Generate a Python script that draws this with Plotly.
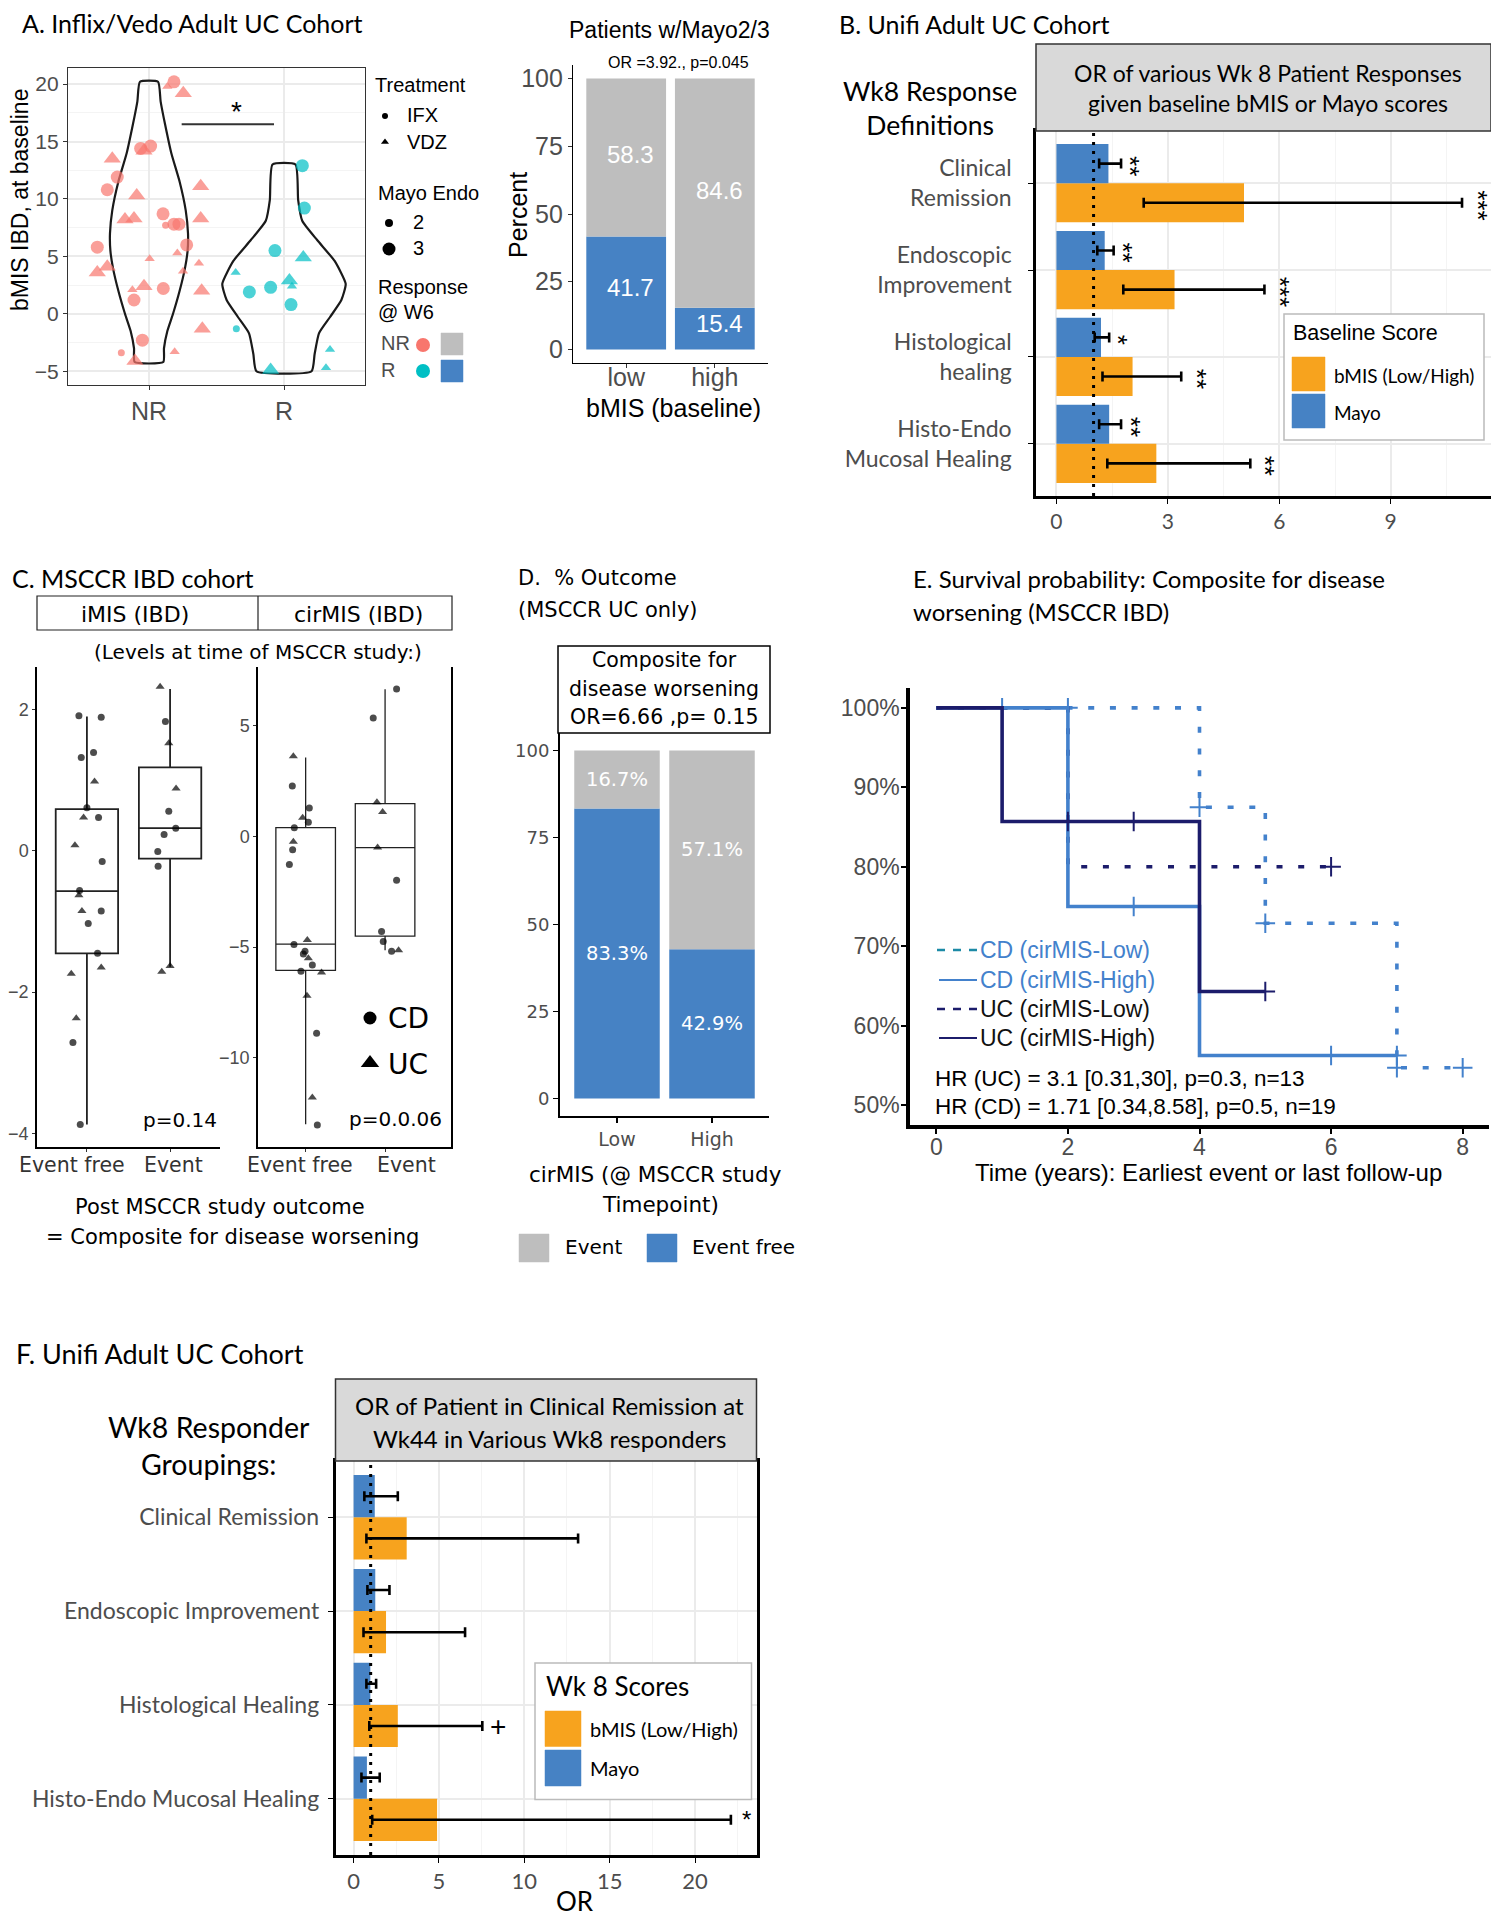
import plotly.graph_objects as go

W, H = 1499, 1920
OFF = 8  # browser body margin
FW, FH = W - OFF, H - OFF
ARIAL = "Liberation Sans, Arial, sans-serif"
LATO = "Lato, Open Sans, sans-serif"
DEJA = "DejaVu Sans, Verdana, sans-serif"

SALMON, TEAL = "#F8766D", "#00BFC4"
BLUE, GRAY, ORANGE = "#4682C4", "#BEBEBE", "#F7A31E"
CDBLUE, NAVY = "#4381CC", "#1C1C6B"

# ---------------- data ----------------
# Panel A: bMIS per patient (jittered x position)
A_NR_X = [1.185, 1.136, 1.254, 1.012, 0.938, 0.963, 0.728, 0.765, 0.691, 0.909, 1.383, 0.822, 0.889, 1.104,
          1.123, 1.185, 1.222, 1.383, 1.279, 0.617, 1.005, 1.210, 1.370, 0.691, 0.617, 1.252, 0.877, 0.963,
          1.106, 1.390, 0.889, 1.395, 0.951, 0.795, 1.190, 0.896]
A_NR_Y = [20.2, 19.8, 19.2, 14.6, 14.4, 14.2, 13.5, 11.9, 10.8, 10.3, 11.1, 8.2, 8.3, 8.7,
          7.7, 7.8, 7.8, 8.3, 6.0, 5.8, 4.8, 5.3, 4.4, 4.1, 3.6, 3.7, 2.1, 2.4,
          2.2, 2.0, 1.2, -1.3, -2.3, -3.4, -3.3, -4.1]
A_NR_TRT = ["IFX", "VDZ", "VDZ", "IFX", "IFX", "VDZ", "VDZ", "IFX", "IFX", "VDZ", "VDZ", "VDZ", "VDZ", "IFX",
            "IFX", "IFX", "IFX", "VDZ", "IFX", "IFX", "VDZ", "VDZ", "VDZ", "VDZ", "VDZ", "VDZ", "VDZ", "VDZ",
            "IFX", "VDZ", "IFX", "VDZ", "IFX", "IFX", "VDZ", "VDZ"]
A_NR_MAYO = [3, 2, 3, 3, 3, 3, 3, 3, 3, 3, 3, 3, 3, 3,
             2, 3, 3, 3, 3, 3, 2, 2, 2, 3, 3, 2, 2, 3,
             3, 3, 3, 3, 3, 2, 2, 3]
A_R_X = [2.136, 2.151, 1.933, 2.143, 1.642, 2.040, 2.059, 1.743, 1.901, 2.052, 1.647, 2.341, 2.311, 1.901]
A_R_Y = [12.9, 9.2, 5.5, 4.9, 3.6, 2.9, 2.4, 1.9, 2.3, 0.8, -1.3, -3.1, -4.7, -4.9]
A_R_TRT = ["IFX", "IFX", "IFX", "VDZ", "VDZ", "VDZ", "VDZ", "IFX", "IFX", "IFX", "IFX", "VDZ", "VDZ", "VDZ"]
A_R_MAYO = [3, 3, 3, 3, 2, 3, 2, 3, 3, 3, 2, 2, 2, 3]
# violin outlines (y level, half width)
A_NR_VY = [-4.2, -3.0, -1.5, 0.0, 2.0, 4.0, 5.5, 7.0, 9.0, 11.5, 14.0, 16.5, 18.5, 20.2]
A_NR_VHW = [0.106, 0.111, 0.136, 0.178, 0.227, 0.267, 0.286, 0.289, 0.272, 0.227, 0.165, 0.119, 0.086, 0.067]
A_R_VY = [-5.0, -3.5, -1.7, -0.3, 1.2, 2.6, 4.6, 6.4, 8.1, 9.9, 13.0]
A_R_VHW = [0.204, 0.227, 0.259, 0.340, 0.425, 0.457, 0.375, 0.247, 0.135, 0.105, 0.085]
A_GROUPS = ["NR", "R"]

# Panel A right: Patients w/Mayo2/3
AB_CATS = ["low", "high"]
AB_R = [41.7, 15.4]
AB_NR = [58.3, 84.6]

# Panel B: Unifi, OR of Wk8 responses
B_CATS = ["Clinical<br>Remission", "Endoscopic<br>Improvement", "Histological<br>healing",
          "Histo-Endo<br>Mucosal Healing"]
B_MAYO = [1.40, 1.30, 1.20, 1.42]
B_MAYO_LO = [1.15, 1.10, 1.03, 1.15]
B_MAYO_HI = [1.74, 1.54, 1.42, 1.74]
B_MAYO_SIG = ["**", "**", "*", "**"]
B_BMIS = [5.05, 3.18, 2.05, 2.69]
B_BMIS_LO = [2.35, 1.80, 1.24, 1.37]
B_BMIS_HI = [10.92, 5.60, 3.36, 5.22]
B_BMIS_SIG = ["***", "***", "**", "**"]

# Panel C: MSCCR IBD boxplots
C_GROUPS = ["Event free", "Event"]
C_IMIS_X = [0.904, 1.172, 0.932, 1.08, 1.092, 1.0, 0.96, 1.14, 0.856, 1.184, 0.912, 0.904, 0.94, 1.172,
            1.016, 1.128, 1.172, 0.812, 0.872, 0.832, 0.92,
            1.88, 1.944, 1.984, 2.072, 1.984, 2.068, 1.928, 1.852, 1.856, 1.9, 2.0]
C_IMIS_Y = [1.91, 1.89, 1.32, 1.39, 0.98, 0.61, 0.47, 0.47, 0.08, -0.15, -0.56, -0.63, -0.85, -0.85,
            -1.03, -1.45, -1.65, -1.74, -2.37, -2.71, -3.87,
            2.32, 1.83, 1.52, 0.88, 0.56, 0.32, 0.23, -0.01, -0.22, -1.71, -1.63]
C_IMIS_DX = ["CD", "CD", "CD", "CD", "UC", "CD", "UC", "CD", "UC", "CD", "CD", "UC", "UC", "CD",
             "CD", "CD", "UC", "UC", "UC", "CD", "CD",
             "UC", "CD", "UC", "UC", "CD", "CD", "CD", "CD", "CD", "UC", "UC"]
C_IMIS_Q1 = [-1.45, -0.11]
C_IMIS_MED = [-0.57, 0.32]
C_IMIS_Q3 = [0.59, 1.18]
C_IMIS_LOW = [-3.87, -1.64]
C_IMIS_HIGH = [1.90, 2.29]
C_CIR_X = [0.845, 0.832, 1.046, 0.962, 1.034, 0.857, 0.845, 0.836, 0.795, 1.021, 0.853, 0.992, 0.971, 1.034,
           1.084, 0.941, 1.2, 1.017, 1.138, 1.084, 1.147,
           2.145, 1.851, 1.897, 1.969, 1.906, 2.145, 1.956, 1.977, 2.082, 2.17]
C_CIR_Y = [3.63, 2.28, 1.29, 0.85, 0.65, 0.40, -0.24, -0.60, -1.27, -4.68, -4.88, -5.18, -5.31, -5.50,
           -5.81, -6.09, -6.15, -7.20, -8.89, -11.79, -13.04,
           6.67, 5.36, 1.55, 1.11, -0.50, -1.98, -4.29, -4.74, -5.18, -5.14]
C_CIR_DX = ["UC", "CD", "CD", "UC", "CD", "CD", "UC", "CD", "CD", "UC", "CD", "CD", "CD", "UC",
            "CD", "CD", "UC", "UC", "CD", "UC", "CD",
            "CD", "CD", "UC", "UC", "UC", "CD", "CD", "CD", "CD", "UC"]
C_CIR_Q1 = [-6.05, -4.50]
C_CIR_MED = [-4.86, -0.50]
C_CIR_Q3 = [0.40, 1.49]
C_CIR_LOW = [-13.0, -5.14]
C_CIR_HIGH = [3.57, 6.65]

# Panel D: % outcome
D_CATS = ["Low", "High"]
D_EVENT_FREE = [83.3, 42.9]
D_EVENT = [16.7, 57.1]

# Panel E: Kaplan-Meier steps (time in years, survival %)
E_CD_LOW_T = [0, 4, 5, 7, 8]
E_CD_LOW_S = [100, 87.5, 72.9, 54.7, 54.7]
E_CD_LOW_CT = [1, 2, 4, 5, 7, 8]
E_CD_LOW_CS = [100, 100, 87.5, 72.9, 54.7, 54.7]
E_CD_HIGH_T = [0, 2, 4, 7]
E_CD_HIGH_S = [100, 75, 56.25, 56.25]
E_CD_HIGH_CT = [3, 6, 7]
E_CD_HIGH_CS = [75, 56.25, 56.25]
E_UC_LOW_T = [0, 2, 6]
E_UC_LOW_S = [100, 80, 80]
E_UC_LOW_CT = [6]
E_UC_LOW_CS = [80]
E_UC_HIGH_T = [0, 1, 4, 5]
E_UC_HIGH_S = [100, 85.7, 64.3, 64.3]
E_UC_HIGH_CT = [2, 3, 5]
E_UC_HIGH_CS = [85.7, 85.7, 64.3]

# Panel F: Unifi, OR of clinical remission at Wk44
F_CATS = ["Clinical Remission", "Endoscopic Improvement", "Histological Healing", "Histo-Endo Mucosal Healing"]
F_MAYO = [1.24, 1.27, 0.98, 0.78]
F_MAYO_LO = [0.63, 0.81, 0.75, 0.46]
F_MAYO_HI = [2.59, 2.10, 1.32, 1.53]
F_BMIS = [3.11, 1.90, 2.59, 4.89]
F_BMIS_LO = [0.75, 0.58, 0.92, 1.09]
F_BMIS_HI = [13.15, 6.53, 7.54, 22.10]
F_BMIS_SIG = ["", "", "+", "*"]


# ---------------- helpers (page pixel -> paper) ----------------
def xd(a, b):
    return [(a - OFF) / FW, (b - OFF) / FW]


def yd(t, b):
    return [1 - (b - OFF) / FH, 1 - (t - OFF) / FH]


fig = go.Figure()
ann = []
shapes = []


def txt(x, y, s, size, family=ARIAL, color="black", xa="center", ya="middle", angle=0, xref="x9", yref="y9"):
    ann.append(dict(x=x, y=y, text=s, xref=xref, yref=yref, showarrow=False, xanchor=xa, yanchor=ya,
                    textangle=angle, font=dict(size=size, family=family, color=color)))


def rect(x0, y0, x1, y1, fill="rgba(0,0,0,0)", line="black", lw=1.0, xref="x9", yref="y9"):
    shapes.append(dict(type="rect", x0=x0, y0=y0, x1=x1, y1=y1, xref=xref, yref=yref,
                       fillcolor=fill, line=dict(color=line, width=lw)))


def seg(x0, y0, x1, y1, color="black", lw=1.0, dash="solid", xref="x9", yref="y9"):
    shapes.append(dict(type="line", x0=x0, y0=y0, x1=x1, y1=y1, xref=xref, yref=yref,
                       line=dict(color=color, width=lw, dash=dash)))


def canvas_marker(x, y, symbol, size, color):
    fig.add_trace(go.Scatter(x=[x], y=[y], mode="markers", xaxis="x9", yaxis="y9", showlegend=False,
                             hoverinfo="skip", marker=dict(symbol=symbol, size=size, color=color, line=dict(width=0))))


# ================= Panel A violin =================
for cx, vy, vhw in [(1, A_NR_VY, A_NR_VHW), (2, A_R_VY, A_R_VHW)]:
    xs = [cx - h for h in vhw] + [cx + h for h in reversed(vhw)] + [cx - vhw[0]]
    ys = list(vy) + list(reversed(vy)) + [vy[0]]
    fig.add_trace(go.Scatter(x=xs, y=ys, mode="lines", line=dict(color="#1a1a1a", width=2.2, shape="spline",
                                                                    smoothing=0.5),
                             xaxis="x", yaxis="y", showlegend=False, hoverinfo="skip"))


def mk_points(xs, ys, trts, mayos, color):
    sym = ["circle" if t == "IFX" else "triangle-up" for t in trts]
    size = [(13 if m == 3 else 7) if t == "IFX" else (15 if m == 3 else 9) for t, m in zip(trts, mayos)]
    fig.add_trace(go.Scatter(x=xs, y=ys, mode="markers", xaxis="x", yaxis="y", showlegend=False,
                             marker=dict(symbol=sym, size=size, color=color, line=dict(width=0))))


mk_points(A_NR_X, A_NR_Y, A_NR_TRT, A_NR_MAYO, SALMON)
mk_points(A_R_X, A_R_Y, A_R_TRT, A_R_MAYO, TEAL)
seg(1.242, 16.5, 1.926, 16.5, color="#333333", lw=2, xref="x", yref="y")
txt(1.65, 17.6, "*", 28, xref="x", yref="y")

# ================= Panel A bars =================
fig.add_trace(go.Bar(x=[1, 2], y=AB_R, width=0.9, marker_color=BLUE, xaxis="x2", yaxis="y2", showlegend=False))
fig.add_trace(go.Bar(x=[1, 2], y=AB_NR, base=AB_R, width=0.9, marker_color=GRAY, xaxis="x2", yaxis="y2",
                     showlegend=False))
for i in range(2):
    txt(i + 1.05, AB_R[i] / 2 + 2, f"{AB_R[i]}", 24, color="white", xref="x2", yref="y2")
    txt(i + 1.05, AB_R[i] + AB_NR[i] / 2 + 1, f"{AB_NR[i]}", 24, color="white", xref="x2", yref="y2")


# ================= Panel B / F bars =================
def or_panel(xa, ya, mayo, mlo, mhi, bmis, blo, bhi):
    pos = [4, 3, 2, 1]
    fig.add_trace(go.Bar(x=bmis, y=[p - 0.225 for p in pos], width=0.45, orientation="h", marker_color=ORANGE,
                         xaxis=xa, yaxis=ya, showlegend=False,
                         error_x=dict(type="data", symmetric=False, array=[h - v for h, v in zip(bhi, bmis)],
                                      arrayminus=[v - l for v, l in zip(bmis, blo)], color="black",
                                      thickness=2.6, width=5)))
    fig.add_trace(go.Bar(x=mayo, y=[p + 0.225 for p in pos], width=0.45, orientation="h", marker_color=BLUE,
                         xaxis=xa, yaxis=ya, showlegend=False,
                         error_x=dict(type="data", symmetric=False, array=[h - v for h, v in zip(mhi, mayo)],
                                      arrayminus=[v - l for v, l in zip(mayo, mlo)], color="black",
                                      thickness=2.6, width=5)))
    shapes.append(dict(type="line", x0=1, x1=1, y0=0, y1=1, xref=xa, yref=ya + " domain",
                       line=dict(color="black", width=3, dash="3px,6px")))
    return pos


pos = or_panel("x3", "y3", B_MAYO, B_MAYO_LO, B_MAYO_HI, B_BMIS, B_BMIS_LO, B_BMIS_HI)
for p, h, s in zip(pos, B_MAYO_HI, B_MAYO_SIG):
    txt(h + 0.26, p + 0.2, s, 26, angle=90, xref="x3", yref="y3")
for p, h, s in zip(pos, B_BMIS_HI, B_BMIS_SIG):
    txt(h + 0.42, p - 0.25, s, 26, angle=90, xref="x3", yref="y3")

pos = or_panel("x8", "y8", F_MAYO, F_MAYO_LO, F_MAYO_HI, F_BMIS, F_BMIS_LO, F_BMIS_HI)
for p, h, s in zip(pos, F_BMIS_HI, F_BMIS_SIG):
    if s:
        txt(h + 0.9, p - 0.225, s, 28 if s == "+" else 24, xref="x8", yref="y8")

# ================= Panel C boxes =================
for xa, ya, q1, med, q3, lo, hi, lw in [("x4", "y4", C_IMIS_Q1, C_IMIS_MED, C_IMIS_Q3, C_IMIS_LOW, C_IMIS_HIGH, 1.8),
                                        ("x5", "y5", C_CIR_Q1, C_CIR_MED, C_CIR_Q3, C_CIR_LOW, C_CIR_HIGH, 1.3)]:
    fig.add_trace(go.Box(x=[1, 2], q1=q1, median=med, q3=q3, lowerfence=lo, upperfence=hi, width=0.75,
                         fillcolor="white", line=dict(color="#222222", width=lw), whiskerwidth=0,
                         boxpoints=False, xaxis=xa, yaxis=ya, showlegend=False, hoverinfo="skip"))
for xa, ya, xs, ys, dx in [("x4", "y4", C_IMIS_X, C_IMIS_Y, C_IMIS_DX), ("x5", "y5", C_CIR_X, C_CIR_Y, C_CIR_DX)]:
    fig.add_trace(go.Scatter(x=xs, y=ys, mode="markers", xaxis=xa, yaxis=ya, showlegend=False,
                             marker=dict(symbol=["circle" if d == "CD" else "triangle-up" for d in dx],
                                         size=[7 if d == "CD" else 8 for d in dx], color="black",
                                         line=dict(width=0))))

# ================= Panel D bars =================
fig.add_trace(go.Bar(x=[1, 2], y=D_EVENT_FREE, width=0.9, marker_color=BLUE, xaxis="x6", yaxis="y6",
                     showlegend=False))
fig.add_trace(go.Bar(x=[1, 2], y=D_EVENT, base=D_EVENT_FREE, width=0.9, marker_color=GRAY, xaxis="x6", yaxis="y6",
                     showlegend=False))
for i in range(2):
    txt(i + 1, D_EVENT_FREE[i] / 2, f"{D_EVENT_FREE[i]}%", 19.5, family=DEJA, color="white", xref="x6", yref="y6")
    txt(i + 1, D_EVENT_FREE[i] + D_EVENT[i] / 2, f"{D_EVENT[i]}%", 19.5, family=DEJA, color="white",
        xref="x6", yref="y6")

# ================= Panel E KM =================
DOT = "6px,15.7px"
for t, s, ct, cs, col, dash in [(E_CD_LOW_T, E_CD_LOW_S, E_CD_LOW_CT, E_CD_LOW_CS, CDBLUE, DOT),
                                (E_UC_LOW_T, E_UC_LOW_S, E_UC_LOW_CT, E_UC_LOW_CS, NAVY, DOT),
                                (E_CD_HIGH_T, E_CD_HIGH_S, E_CD_HIGH_CT, E_CD_HIGH_CS, CDBLUE, "solid"),
                                (E_UC_HIGH_T, E_UC_HIGH_S, E_UC_HIGH_CT, E_UC_HIGH_CS, NAVY, "solid")]:
    fig.add_trace(go.Scatter(x=t, y=s, mode="lines", line=dict(color=col, width=3.6, dash=dash, shape="hv"),
                             xaxis="x7", yaxis="y7", showlegend=False))
    fig.add_trace(go.Scatter(x=ct, y=cs, mode="markers", xaxis="x7", yaxis="y7", showlegend=False,
                             marker=dict(symbol="cross-thin", size=14, line=dict(color=col, width=2))))

# canvas trace (needed so axis 9 exists)
fig.add_trace(go.Scatter(x=[OFF], y=[OFF], mode="markers", marker=dict(size=1, color="rgba(0,0,0,0)"),
                         xaxis="x9", yaxis="y9", showlegend=False, hoverinfo="skip"))

# ================= annotations / decorations =================
# Panel A
txt(20, 23, "A. Inflix/Vedo Adult UC Cohort", 25, family=LATO, xa="left")
txt(20, 200, "bMIS IBD, at baseline", 23, angle=-90)
txt(373, 85, "Treatment", 20, xa="left")
canvas_marker(385, 116, "circle", 6, "black")
txt(405, 115, "IFX", 20, xa="left")
canvas_marker(385, 142, "triangle-up", 7, "black")
txt(405, 142, "VDZ", 20, xa="left")
txt(376, 193, "Mayo Endo", 20, xa="left")
canvas_marker(389, 223, "circle", 8, "black")
txt(411, 222, "2", 20, xa="left")
canvas_marker(389, 249, "circle", 13, "black")
txt(411, 248, "3", 20, xa="left")
txt(376, 287, "Response", 20, xa="left")
txt(376, 312, "@ W6", 20, xa="left")
txt(379, 343, "NR", 20, xa="left", color="#4D4D4D")
txt(379, 370, "R", 20, xa="left", color="#4D4D4D")
canvas_marker(423, 345, "circle", 14, SALMON)
canvas_marker(423, 371, "circle", 14, TEAL)
rect(441, 333, 463, 355, fill=GRAY, line=GRAY, lw=0.5)
rect(441, 360, 463, 382, fill=BLUE, line=BLUE, lw=0.5)

# Panel A bars
txt(669, 30, "Patients w/Mayo2/3", 23)
txt(678, 62, "OR =3.92., p=0.045", 16)
txt(518, 215, "Percent", 25, angle=-90)
txt(673, 408, "bMIS (baseline)", 25)

# Panel B
txt(837, 24, "B. Unifi Adult UC Cohort", 25, family=LATO, xa="left")
txt(930, 108, "Wk8 Response<br>Definitions", 26.5, family=LATO)
rect(1036, 44, 1491, 131, fill="#D9D9D9", line="#333333", lw=1.5)
txt(1268, 73, "OR of various Wk 8 Patient Responses", 23, family=LATO)
txt(1268, 103, "given baseline bMIS or Mayo scores", 23, family=LATO)
rect(1284, 314, 1484, 440, fill="white", line="#BBBBBB", lw=1.5)
txt(1291, 333, "Baseline Score", 21.5, family=ARIAL, xa="left")
rect(1292, 357, 1325, 391, fill=ORANGE, line=ORANGE, lw=0.5)
rect(1292, 394, 1325, 428, fill=BLUE, line=BLUE, lw=0.5)
txt(1332, 375, "bMIS (Low/High)", 19, family=LATO, xa="left")
txt(1332, 412, "Mayo", 19, family=LATO, xa="left")

# Panel C
txt(10, 578, "C. MSCCR IBD cohort", 25, family=LATO, xa="left")
rect(37, 596, 452, 630, fill="white", line="#222222", lw=1.2)
seg(258, 596, 258, 630, color="#222222", lw=1.2)
txt(135, 614, "iMIS (IBD)", 22, family=DEJA)
txt(358, 614, "cirMIS (IBD)", 22, family=DEJA)
txt(258, 652, "(Levels at time of MSCCR study:)", 20, family=DEJA)
txt(180, 1120, "p=0.14", 20, family=DEJA)
txt(395, 1119, "p=0.0.06", 20, family=DEJA)
canvas_marker(370, 1018, "circle", 13, "black")
txt(386, 1018, "CD", 28, family=DEJA, xa="left")
canvas_marker(370, 1063, "triangle-up", 16, "black")
txt(386, 1064, "UC", 28, family=DEJA, xa="left")
for cx, lab in zip([72, 173, 300, 406], C_GROUPS + C_GROUPS):
    txt(cx, 1165, lab, 20.5, family=DEJA, color="#333333")
txt(220, 1207, "Post MSCCR study outcome", 21, family=DEJA)
txt(232, 1237, "= Composite for disease worsening", 21, family=DEJA)

# Panel D
txt(516, 578, "D.  % Outcome", 21, family=DEJA, xa="left")
txt(516, 610, "(MSCCR UC only)", 21, family=DEJA, xa="left")
rect(558, 646, 770, 733, fill="white", line="black", lw=1.5)
txt(664, 660, "Composite for", 20.5, family=DEJA)
txt(664, 689, "disease worsening", 20.5, family=DEJA)
txt(664, 717, "OR=6.66 ,p= 0.15", 20.5, family=DEJA)
txt(655, 1174, "cirMIS (@ MSCCR study", 21.5, family=DEJA)
txt(660, 1204, "Timepoint)", 21.5, family=DEJA)
rect(519, 1234, 549, 1262, fill=GRAY, line=GRAY, lw=0.5)
txt(563, 1247, "Event", 20, family=DEJA, xa="left")
rect(647, 1234, 677, 1262, fill=BLUE, line=BLUE, lw=0.5)
txt(690, 1247, "Event free", 20, family=DEJA, xa="left")

# Panel E
txt(911, 578, "E. Survival probability: Composite for disease", 24, family=LATO, xa="left")
txt(911, 611, "worsening (MSCCR IBD)", 24, family=LATO, xa="left")
seg(937, 950, 977, 950, color="#1C8AA6", lw=2.5, dash="8px,8px")
seg(939, 980, 977, 980, color=CDBLUE, lw=2)
seg(937, 1009, 977, 1009, color=NAVY, lw=2.5, dash="8px,8px")
seg(939, 1038, 977, 1038, color=NAVY, lw=2)
txt(978, 950, "CD (cirMIS-Low)", 23, color=CDBLUE, xa="left")
txt(978, 980, "CD (cirMIS-High)", 23, color=CDBLUE, xa="left")
txt(978, 1009, "UC (cirMIS-Low)", 23, color="#111111", xa="left")
txt(978, 1038, "UC (cirMIS-High)", 23, color="#111111", xa="left")
txt(933, 1078, "HR (UC) = 3.1 [0.31,30], p=0.3, n=13", 22.5, xa="left")
txt(933, 1106, "HR (CD) = 1.71 [0.34,8.58], p=0.5, n=19", 22.5, xa="left")
txt(1208, 1172, "Time (years): Earliest event or last follow-up", 24)

# Panel F
txt(14, 1353, "F. Unifi Adult UC Cohort", 27, family=LATO, xa="left")
txt(209, 1445, "Wk8 Responder<br>Groupings:", 28.5, family=LATO)
rect(335.5, 1379, 756.5, 1461, fill="#D9D9D9", line="#333333", lw=1.5)
txt(549, 1405, "OR of Patient in Clinical Remission at", 24, family=LATO)
txt(549, 1438, "Wk44 in Various Wk8 responders", 24, family=LATO)
rect(535, 1663, 751.5, 1799.5, fill="white", line="#BBBBBB", lw=1.5)
txt(544, 1686, "Wk 8 Scores", 26, family=LATO, xa="left")
rect(545, 1711, 581, 1746.5, fill=ORANGE, line=ORANGE, lw=0.5)
rect(545, 1750, 581, 1786, fill=BLUE, line=BLUE, lw=0.5)
txt(588, 1729, "bMIS (Low/High)", 20, family=LATO, xa="left")
txt(588, 1768, "Mayo", 20, family=LATO, xa="left")
txt(575, 1901, "OR", 26, family=LATO)

# ================= axes =================
GRID = "#EBEBEB"
MINOR = "#F4F4F4"
TICKC = "#4D4D4D"


def tf(size, family=ARIAL, color=TICKC):
    return dict(size=size, family=family, color=color)


layout_axes = dict(
    # A violin
    xaxis=dict(domain=xd(68, 365), range=[0.4, 2.6], tickvals=[1, 2], ticktext=A_GROUPS, showgrid=True,
               gridcolor=GRID, gridwidth=1.5, zeroline=False, showline=True, mirror=True, linecolor="#333333",
               linewidth=1.2, ticks="outside", ticklen=4, tickcolor="#333333", tickfont=tf(25), anchor="y"),
    yaxis=dict(domain=yd(68, 385), range=[-6.2, 21.4], tickvals=[-5, 0, 5, 10, 15, 20], showgrid=True,
               gridcolor=GRID, gridwidth=1.5, zeroline=False, showline=True, mirror=True, linecolor="#333333",
               linewidth=1.2, ticks="outside", ticklen=4, tickcolor="#333333", tickfont=tf(21), anchor="x",
               minor=dict(tickvals=[-2.5, 2.5, 7.5, 12.5, 17.5], showgrid=True, gridcolor=MINOR, gridwidth=1)),
    # A bars
    xaxis2=dict(domain=xd(573, 768), range=[0.4, 2.6], tickvals=[1, 2], ticktext=AB_CATS, showgrid=False,
                zeroline=False, showline=True, linecolor="black", linewidth=1.3, ticks="outside", ticklen=4,
                tickcolor="#333333", tickfont=tf(25), ticklabelstandoff=-12, anchor="y2"),
    yaxis2=dict(domain=yd(65, 363), range=[-5, 105], tickvals=[0, 25, 50, 75, 100], showgrid=False,
                zeroline=False, showline=True, linecolor="black", linewidth=1.3, ticks="outside", ticklen=4,
                tickcolor="#333333", tickfont=tf(25), anchor="x2"),
    # B
    xaxis3=dict(domain=xd(1036, 1491), range=[-0.55, 11.7], tickvals=[0, 3, 6, 9], showgrid=True, gridcolor=GRID,
                gridwidth=1.5, zeroline=False, showline=True, mirror=True, linecolor="black", linewidth=2.5,
                ticks="outside", ticklen=5, tickcolor="black", tickfont=tf(21, LATO), anchor="y3",
                minor=dict(tickvals=[1.5, 4.5, 7.5, 10.5], showgrid=True, gridcolor=MINOR, gridwidth=1)),
    yaxis3=dict(domain=yd(131, 496), range=[0.4, 4.6], tickvals=[4, 3, 2, 1], ticktext=B_CATS, showgrid=True,
                gridcolor=GRID, gridwidth=1.5, zeroline=False, showline=True, mirror=True, linecolor="black",
                linewidth=2.5, ticks="outside", ticklen=5, tickcolor="black", tickfont=tf(23, LATO),
                ticklabelstandoff=12, anchor="x3"),
    # C left
    xaxis4=dict(domain=xd(37, 220), range=[0.4, 2.6], tickvals=[1, 2], showticklabels=False, showgrid=False,
                zeroline=False, showline=True, linecolor="black", linewidth=1.5, ticks="outside", ticklen=3,
                tickcolor="#333333", anchor="y4"),
    yaxis4=dict(domain=yd(667, 1147), range=[-4.19, 2.6], tickvals=[-4, -2, 0, 2], showgrid=False, zeroline=False,
                showline=True, linecolor="black", linewidth=1.5, ticks="outside", ticklen=3, tickcolor="#333333",
                tickfont=tf(18), anchor="x4"),
    # C right
    xaxis5=dict(domain=xd(258, 451), range=[0.4, 2.83], tickvals=[1, 2], showticklabels=False, showgrid=False,
                zeroline=False, showline=True, linecolor="black", linewidth=1.5, ticks="outside", ticklen=3,
                tickcolor="#333333", anchor="y5"),
    yaxis5=dict(domain=yd(667, 1147), range=[-14.03, 7.66], tickvals=[-10, -5, 0, 5], showgrid=False,
                zeroline=False, showline=True, mirror=True, linecolor="black", linewidth=1.5, ticks="outside",
                ticklen=3, tickcolor="#333333", tickfont=tf(18), anchor="x5"),
    # D
    xaxis6=dict(domain=xd(560, 769), range=[0.4, 2.6], tickvals=[1, 2], ticktext=D_CATS, showgrid=False,
                zeroline=False, showline=True, linecolor="black", linewidth=2, ticks="outside", ticklen=5,
                tickcolor="black", tickwidth=2, tickfont=tf(19, DEJA), anchor="y6"),
    yaxis6=dict(domain=yd(733, 1116), range=[-5, 105], tickvals=[0, 25, 50, 75, 100], showgrid=False,
                zeroline=False, showline=True, linecolor="black", linewidth=2, ticks="outside", ticklen=5,
                tickcolor="black", tickfont=tf(18, DEJA), anchor="x6"),
    # E
    xaxis7=dict(domain=xd(910, 1489), range=[-0.4, 8.4], tickvals=[0, 2, 4, 6, 8], showgrid=False,
                zeroline=False, showline=True, linecolor="black", linewidth=3.5, ticks="outside", ticklen=5,
                tickwidth=1.5, tickcolor="black", tickfont=tf(23), ticklabelstandoff=-6, anchor="y7"),
    yaxis7=dict(domain=yd(688, 1125), range=[47.5, 102.5], tickvals=[50, 60, 70, 80, 90, 100],
                ticktext=["50%", "60%", "70%", "80%", "90%", "100%"], showgrid=False, zeroline=False,
                showline=True, linecolor="black", linewidth=3.5, ticks="outside", ticklen=5, tickwidth=1.5,
                tickcolor="black", tickfont=tf(23), ticklabelstandoff=-3, anchor="x7"),
    # F
    xaxis8=dict(domain=xd(335.5, 757), range=[-1.06, 23.63], tickvals=[0, 5, 10, 15, 20], showgrid=True,
                gridcolor=GRID, gridwidth=1.5, zeroline=False, showline=True, mirror=True, linecolor="black",
                linewidth=2.5, ticks="outside", ticklen=5, tickcolor="black", tickfont=tf(22, LATO),
                anchor="y8",
                minor=dict(tickvals=[2.5, 7.5, 12.5, 17.5, 22.5], showgrid=True, gridcolor=MINOR, gridwidth=1)),
    yaxis8=dict(domain=yd(1461, 1855), range=[0.4, 4.6], tickvals=[4, 3, 2, 1], ticktext=F_CATS, showgrid=True,
                gridcolor=GRID, gridwidth=1.5, zeroline=False, showline=True, mirror=True, linecolor="black",
                linewidth=2.5, ticks="outside", ticklen=5, tickcolor="black", tickfont=tf(23, LATO),
                ticklabelstandoff=4, anchor="x8"),
    # canvas: range in page pixels
    xaxis9=dict(domain=[0, 1], range=[OFF, W], visible=False, fixedrange=True, anchor="y9"),
    yaxis9=dict(domain=[0, 1], range=[H, OFF], visible=False, fixedrange=True, anchor="x9"),
)
for k in layout_axes:
    layout_axes[k]["automargin"] = False

fig.update_layout(template="none", width=FW, height=FH, margin=dict(l=0, r=0, t=0, b=0, pad=0),
                  paper_bgcolor="white", plot_bgcolor="rgba(0,0,0,0)", barmode="overlay", showlegend=False,
                  font=dict(family=ARIAL, color="black"), annotations=ann, shapes=shapes, **layout_axes)

fig.write_html("out.html")
